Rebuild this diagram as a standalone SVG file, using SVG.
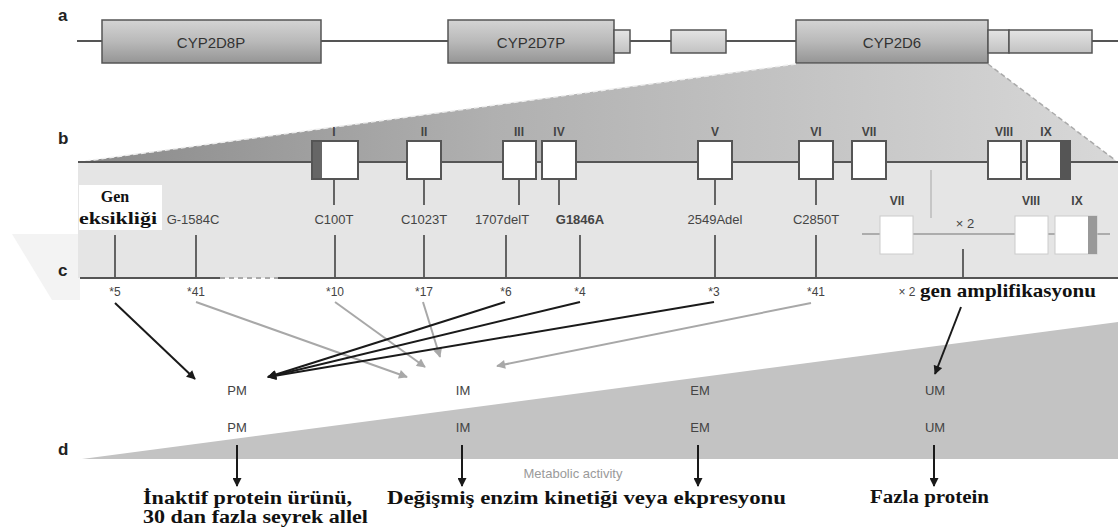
<svg xmlns="http://www.w3.org/2000/svg" width="1118" height="529" viewBox="0 0 1118 529">
<defs>
<linearGradient id="gBox" x1="0" y1="0" x2="0" y2="1">
<stop offset="0" stop-color="#d4d4d4"/><stop offset="0.5" stop-color="#b9b9b9"/><stop offset="1" stop-color="#959595"/>
</linearGradient>
<linearGradient id="gSmall" x1="0" y1="0" x2="0" y2="1">
<stop offset="0" stop-color="#e4e4e4"/><stop offset="1" stop-color="#c2c2c2"/>
</linearGradient>
<linearGradient id="gWedge" gradientUnits="userSpaceOnUse" x1="78" y1="0" x2="1115" y2="0">
<stop offset="0" stop-color="#8a8a8a"/><stop offset="0.4" stop-color="#b0b0b0"/><stop offset="1" stop-color="#d8d8d8"/>
</linearGradient>
<marker id="ab" viewBox="0 0 10 10" refX="9" refY="5" markerWidth="10" markerHeight="9" markerUnits="userSpaceOnUse" orient="auto"><path d="M0,0 L10,5 L0,10 z" fill="#1a1a1a"/></marker>
<marker id="ag" viewBox="0 0 10 10" refX="9" refY="5" markerWidth="10" markerHeight="9" markerUnits="userSpaceOnUse" orient="auto"><path d="M0,0 L10,5 L0,10 z" fill="#a8a8a8"/></marker>
<style>
.lbl{font-family:"Liberation Sans",Arial,sans-serif;font-weight:bold;font-size:17px;fill:#222}
.gene{font-family:"Liberation Sans",Arial,sans-serif;font-size:15px;fill:#333;text-anchor:middle;dominant-baseline:central}
.bx{fill:url(#gBox);stroke:#555;stroke-width:1.5}
.sb{fill:url(#gSmall);stroke:#555;stroke-width:1.5}
.ex{fill:#fff;stroke:#555;stroke-width:2}
.rom{font-family:"Liberation Sans",Arial,sans-serif;font-weight:bold;font-size:12px;fill:#444;text-anchor:middle}
.mut{font-family:"Liberation Sans",Arial,sans-serif;font-size:13px;fill:#444;text-anchor:middle;dominant-baseline:central}
.al{font-family:"Liberation Sans",Arial,sans-serif;font-size:12px;fill:#444;text-anchor:middle;dominant-baseline:central}
.ph{font-family:"Liberation Sans",Arial,sans-serif;font-size:13px;fill:#444;text-anchor:middle;dominant-baseline:central}
.tk{stroke:#555;stroke-width:1.8}
.ser{font-family:"Liberation Serif","Times New Roman",serif;font-weight:bold;fill:#111}
.blk{stroke:#1a1a1a;stroke-width:2;fill:none}
.gry{stroke:#a8a8a8;stroke-width:2;fill:none}
</style>
</defs>
<rect width="1118" height="529" fill="#fff"/>

<!-- faint watermark -->
<polygon points="12,234 80,234 80,300 52,300" fill="#f3f3f3"/>

<!-- panel a -->
<g id="panel-a">
<text class="lbl" x="58" y="21">a</text>
<line x1="77" y1="41" x2="1118" y2="41" stroke="#555" stroke-width="1.8"/>
<g id="cyp2d8p"><rect class="bx" x="102" y="20" width="219" height="43"/><text class="gene" x="211" y="42">CYP2D8P</text></g>
<g id="cyp2d7p"><rect class="bx" x="448" y="20" width="166" height="43"/><rect class="sb" x="614" y="30" width="16" height="23"/><text class="gene" x="531" y="42">CYP2D7P</text></g>
<g id="spacer-exon"><rect class="sb" x="671" y="30" width="55" height="23"/></g>
<g id="cyp2d6"><rect class="bx" x="796" y="20" width="192" height="43"/><rect class="sb" x="988" y="30" width="21" height="23"/><rect class="sb" x="1009" y="30" width="83" height="23"/><text class="gene" x="892" y="42">CYP2D6</text></g>
</g>

<!-- panel b/c background -->
<polygon points="78,162 796,64 988,64 1115,160 1118,162" fill="url(#gWedge)"/>
<line x1="796" y1="64" x2="78" y2="162" stroke="#eee" stroke-width="1.5" stroke-dasharray="5,3"/>
<line x1="988" y1="64" x2="1115" y2="160" stroke="#aaa" stroke-width="1.5" stroke-dasharray="5,3"/>
<rect x="78" y="162" width="1040" height="116" fill="#e5e5e5"/>

<g id="panel-b">
<text class="lbl" x="58" y="144">b</text>
<line x1="78" y1="162" x2="1118" y2="162" stroke="#555" stroke-width="2"/>
<g id="exon-I"><rect class="ex" x="312" y="141" width="46" height="38"/><rect x="313" y="142" width="9" height="36" fill="#666"/><text class="rom" x="334" y="136">I</text></g>
<g id="exon-II"><rect class="ex" x="407" y="141" width="34" height="38"/><text class="rom" x="424" y="136">II</text></g>
<g id="exon-III"><rect class="ex" x="503" y="141" width="33" height="38"/><text class="rom" x="519" y="136">III</text></g>
<g id="exon-IV"><rect class="ex" x="542" y="141" width="34" height="38"/><text class="rom" x="559" y="136">IV</text></g>
<g id="exon-V"><rect class="ex" x="698" y="141" width="34" height="38"/><text class="rom" x="715" y="136">V</text></g>
<g id="exon-VI"><rect class="ex" x="799" y="141" width="34" height="38"/><text class="rom" x="816" y="136">VI</text></g>
<g id="exon-VII"><rect class="ex" x="852" y="141" width="34" height="38"/><text class="rom" x="869" y="136">VII</text></g>
<g id="exon-VIII"><rect class="ex" x="988" y="141" width="33" height="38"/><text class="rom" x="1004" y="136">VIII</text></g>
<g id="exon-IX"><rect class="ex" x="1027" y="141" width="43" height="38"/><rect x="1060" y="142" width="9" height="36" fill="#555"/><text class="rom" x="1046" y="136">IX</text></g>
</g>

<!-- mutations -->
<g id="mutations">
<g id="gen-eksikligi"><rect x="79" y="185" width="83" height="45" fill="#fff"/>
<text class="ser" x="115" y="202" font-size="16" text-anchor="middle">Gen</text>
<text class="ser" x="118" y="224" font-size="16" text-anchor="middle" textLength="78" lengthAdjust="spacingAndGlyphs">eksikliği</text></g>
<line class="tk" x1="115" y1="235" x2="115" y2="278"/>
<g id="m-g1584c"><text class="mut" x="193" y="219">G-1584C</text><line class="tk" x1="196" y1="235" x2="196" y2="278"/></g>
<g id="m-c100t"><line class="tk" x1="334" y1="179" x2="334" y2="205"/><text class="mut" x="334" y="219">C100T</text><line class="tk" x1="335" y1="235" x2="335" y2="278"/></g>
<g id="m-c1023t"><line class="tk" x1="424" y1="179" x2="424" y2="205"/><text class="mut" x="424" y="219">C1023T</text><line class="tk" x1="424" y1="235" x2="424" y2="278"/></g>
<g id="m-1707delt"><line class="tk" x1="519" y1="179" x2="519" y2="205"/><text class="mut" x="502" y="219">1707delT</text><line class="tk" x1="506" y1="235" x2="506" y2="278"/></g>
<g id="m-g1846a"><line class="tk" x1="559" y1="179" x2="559" y2="205"/><text class="mut" x="580" y="219" font-weight="bold">G1846A</text><line class="tk" x1="580" y1="235" x2="580" y2="278"/></g>
<g id="m-2549adel"><line class="tk" x1="715" y1="179" x2="715" y2="205"/><text class="mut" x="715" y="219">2549Adel</text><line class="tk" x1="715" y1="235" x2="715" y2="278"/></g>
<g id="m-c2850t"><line class="tk" x1="816" y1="179" x2="816" y2="205"/><text class="mut" x="816" y="219">C2850T</text><line class="tk" x1="816" y1="235" x2="816" y2="278"/></g>
</g>

<!-- duplication inset -->
<g id="inset-x2">
<line x1="931" y1="170" x2="931" y2="218" stroke="#bbb" stroke-width="1.5"/>
<line x1="862" y1="234" x2="1110" y2="234" stroke="#999" stroke-width="1.5"/>
<rect x="880" y="216" width="33" height="38" fill="#fff" stroke="#ccc" stroke-width="1"/>
<rect x="1015" y="216" width="33" height="38" fill="#fff" stroke="#ccc" stroke-width="1"/>
<rect x="1055" y="216" width="42" height="38" fill="#fff" stroke="#ccc" stroke-width="1"/>
<rect x="1088" y="216" width="9" height="38" fill="#999"/>
<text class="rom" x="897" y="205">VII</text>
<text class="rom" x="1031" y="205">VIII</text>
<text class="rom" x="1077" y="205">IX</text>
<text class="mut" x="965" y="223">× 2</text>
<line class="tk" x1="963" y1="249" x2="963" y2="278"/>
</g>

<!-- panel c -->
<g id="panel-c">
<text class="lbl" x="58" y="276">c</text>
<line x1="80" y1="278" x2="220" y2="278" stroke="#555" stroke-width="2"/>
<line x1="220" y1="278" x2="278" y2="278" stroke="#aaa" stroke-width="2" stroke-dasharray="5,4"/>
<line x1="278" y1="278" x2="1118" y2="278" stroke="#555" stroke-width="2"/>
<text class="al" x="115" y="292">*5</text>
<text class="al" x="196" y="292">*41</text>
<text class="al" x="335" y="292">*10</text>
<text class="al" x="424" y="292">*17</text>
<text class="al" x="506" y="292">*6</text>
<text class="al" x="580" y="292">*4</text>
<text class="al" x="714" y="292">*3</text>
<text class="al" x="816" y="292">*41</text>
<text class="al" x="907" y="292">× 2</text>
<text class="ser" x="920" y="297" font-size="19" textLength="176" lengthAdjust="spacingAndGlyphs">gen amplifikasyonu</text>
</g>

<!-- panel d wedge -->
<polygon points="82,459 1118,322 1118,459" fill="#c3c3c3"/>
<text class="lbl" x="58" y="455">d</text>
<text x="573" y="478" font-family="Liberation Sans,Arial,sans-serif" font-size="13" fill="#9a9a9a" text-anchor="middle">Metabolic activity</text>

<!-- phenotype nodes -->
<g id="pm"><text class="ph" x="237" y="390">PM</text><text class="ph" x="237" y="427">PM</text></g>
<g id="im"><text class="ph" x="463" y="390">IM</text><text class="ph" x="463" y="427">IM</text></g>
<g id="em"><text class="ph" x="700" y="390">EM</text><text class="ph" x="700" y="427">EM</text></g>
<g id="um"><text class="ph" x="935" y="390">UM</text><text class="ph" x="935" y="427">UM</text></g>

<!-- connectors -->
<g id="connectors">
<line class="blk" x1="115" y1="303" x2="195" y2="379" marker-end="url(#ab)"/>
<line class="gry" x1="196" y1="302" x2="407" y2="377" marker-end="url(#ag)"/>
<line class="gry" x1="335" y1="302" x2="425" y2="367" marker-end="url(#ag)"/>
<line class="gry" x1="423" y1="302" x2="440" y2="357" marker-end="url(#ag)"/>
<line class="gry" x1="811" y1="303" x2="497" y2="366" marker-end="url(#ag)"/>
<line class="blk" x1="505" y1="302" x2="268" y2="377" marker-end="url(#ab)"/>
<line class="blk" x1="580" y1="302" x2="268" y2="377" stroke="#333" marker-end="url(#ab)"/>
<line class="blk" x1="714" y1="302" x2="268" y2="377" stroke="#333" marker-end="url(#ab)"/>
<line class="blk" x1="961" y1="307" x2="935" y2="374" marker-end="url(#ab)"/>
<line class="blk" x1="237" y1="445" x2="237" y2="486" marker-end="url(#ab)"/>
<line class="blk" x1="462" y1="445" x2="462" y2="486" marker-end="url(#ab)"/>
<line class="blk" x1="698" y1="445" x2="698" y2="486" marker-end="url(#ab)"/>
<line class="blk" x1="934" y1="445" x2="934" y2="486" marker-end="url(#ab)"/>
</g>

<!-- outcome texts -->
<g id="outcomes">
<text class="ser" x="143" y="504" font-size="18" textLength="209" lengthAdjust="spacingAndGlyphs">İnaktif protein ürünü,</text>
<text class="ser" x="143" y="523" font-size="18" textLength="225" lengthAdjust="spacingAndGlyphs">30 dan fazla seyrek allel</text>
<text class="ser" x="387" y="504" font-size="18" textLength="399" lengthAdjust="spacingAndGlyphs">Değişmiş enzim kinetiği veya ekpresyonu</text>
<text class="ser" x="870" y="503" font-size="18" textLength="119" lengthAdjust="spacingAndGlyphs">Fazla protein</text>
</g>
</svg>
